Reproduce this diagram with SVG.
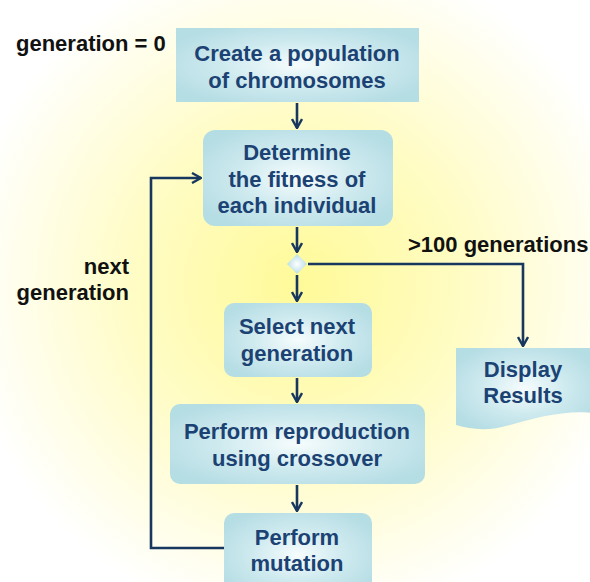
<svg xmlns="http://www.w3.org/2000/svg" width="590" height="582" viewBox="0 0 590 582">
<defs>
<radialGradient id="bg" cx="300" cy="285" r="340" gradientUnits="userSpaceOnUse">
<stop offset="0" stop-color="#fffa98"/>
<stop offset="0.5" stop-color="#fffcc6"/>
<stop offset="1" stop-color="#ffffff"/>
</radialGradient>
<radialGradient id="box" cx="0.5" cy="0.5" r="0.6">
<stop offset="0" stop-color="#f6fcfd"/>
<stop offset="0.55" stop-color="#cce9ee"/>
<stop offset="1" stop-color="#b5dde4"/>
</radialGradient>
<radialGradient id="dia" cx="0.5" cy="0.5" r="0.5">
<stop offset="0" stop-color="#ffffff"/>
<stop offset="1" stop-color="#b9dfe6"/>
</radialGradient>
<marker id="arr" viewBox="0 0 12 12" refX="11" refY="6" markerWidth="12" markerHeight="12" markerUnits="userSpaceOnUse" orient="auto">
<path d="M2,1 L11,6 L2,11" fill="none" stroke="#17375f" stroke-width="2.4"/>
</marker>
</defs>
<style>
.node{fill:url(#box);}
.t{font-family:"Liberation Sans",Arial,sans-serif;font-weight:bold;font-size:22px;fill:#1b4273;text-anchor:middle;}
.k{font-family:"Liberation Sans",Arial,sans-serif;font-weight:bold;font-size:22px;fill:#111111;}
.c{fill:none;stroke:#17375f;stroke-width:2.6;}
</style>
<rect width="590" height="582" fill="url(#bg)"/>
<g id="label-gen0"><text class="k" x="16" y="51">generation = 0</text></g>
<g id="label-next"><text class="k" x="129" y="274" text-anchor="end">next</text><text class="k" x="129" y="300" text-anchor="end">generation</text></g>
<g id="label-100"><text class="k" x="408" y="252">&gt;100 generations</text></g>
<g id="create">
<rect class="node" x="176" y="28" width="243" height="74"/>
<text class="t" x="297" y="61">Create a population</text>
<text class="t" x="297" y="88">of chromosomes</text>
</g>
<g id="fitness">
<rect class="node" x="203" y="130" width="190" height="96" rx="12"/>
<text class="t" x="297" y="160">Determine</text>
<text class="t" x="297" y="187">the fitness of</text>
<text class="t" x="297" y="213">each individual</text>
</g>
<g id="decision">
<path d="M297,254 L307,264 L297,274 L287,264 Z" fill="url(#dia)"/>
</g>
<g id="select">
<rect class="node" x="224" y="303" width="148" height="74" rx="10"/>
<text class="t" x="297" y="334">Select next</text>
<text class="t" x="297" y="361">generation</text>
</g>
<g id="reproduction">
<rect class="node" x="170" y="404" width="255" height="80" rx="10"/>
<text class="t" x="297" y="439">Perform reproduction</text>
<text class="t" x="297" y="466">using crossover</text>
</g>
<g id="mutation">
<rect class="node" x="224" y="513" width="148" height="84" rx="10"/>
<text class="t" x="297" y="545">Perform</text>
<text class="t" x="297" y="571">mutation</text>
</g>
<g id="display">
<path class="node" d="M456,348 H592 V413 C565,410 535,418 510,425 C490,431 472,430 456,425 Z"/>
<text class="t" x="523" y="377">Display</text>
<text class="t" x="523" y="403">Results</text>
</g>
<g id="connectors">
<path class="c" d="M297,103 V128" marker-end="url(#arr)"/>
<path class="c" d="M297,227 V252" marker-end="url(#arr)"/>
<path class="c" d="M297,275 V301" marker-end="url(#arr)"/>
<path class="c" d="M297,378 V402" marker-end="url(#arr)"/>
<path class="c" d="M297,485 V511" marker-end="url(#arr)"/>
<path class="c" d="M308,264 H523 V346" marker-end="url(#arr)"/>
<path class="c" d="M224,548 H151 V178 H201" marker-end="url(#arr)"/>
</g>
</svg>
